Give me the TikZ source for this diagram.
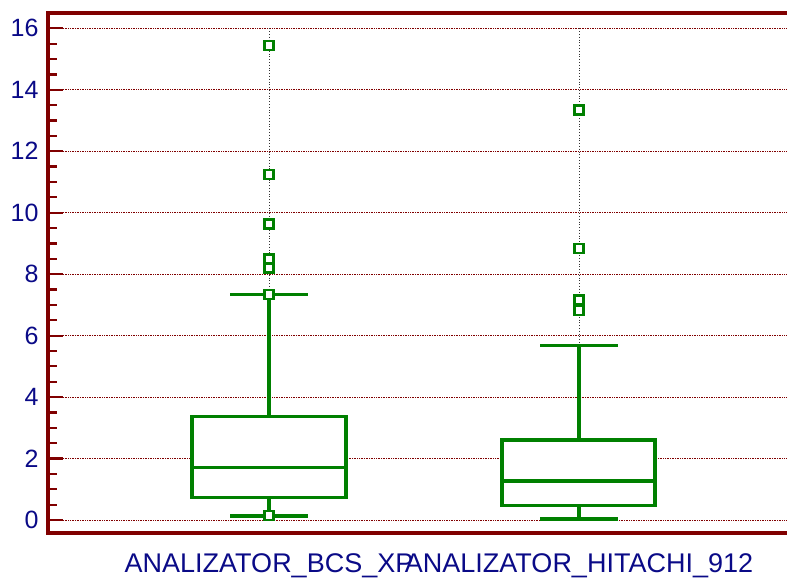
\documentclass[tikz,border=0pt]{standalone}
\usepackage{fontspec}
\setmainfont{Liberation Sans}
\definecolor{axisred}{RGB}{128,0,0}
\definecolor{boxgreen}{RGB}{0,128,0}
\definecolor{labelblue}{RGB}{10,10,135}
\tikzset{
  grid line/.style={axisred, densely dotted, line width=0.7pt},
  box line/.style={boxgreen, line width=3.2pt},
  outlier/.style={boxgreen, fill=white, line width=2.2pt},
  stem/.style={black!80, dotted, line width=0.8pt}
}
\begin{document}
\begin{tikzpicture}[x=1pt, y=1pt, font=\fontsize{25}{25}\selectfont]
\useasboundingbox (0,0) rectangle (787,580);
\begin{scope}[yshift=60pt, y=30.73pt]
% grid and ticks
\foreach \v in {0,2,...,16}{
  \draw[grid line] (63,\v)--(787,\v);
  \draw[axisred, line width=2.2pt] (48,\v)--(63,\v);
  \node[labelblue, anchor=east] (t\v) at (42,\v) {\v};
}
\foreach \v in {0,2,...,14}
  \foreach \d in {0.5,1,1.5}
    \draw[axisred, line width=2.2pt] (48,\v+\d)--(57,\v+\d);
% stems
\draw[stem] (269,16)--(269,7.35);
\draw[stem] (579,16)--(579,5.69);
% box 1
\draw[box line] (269,3.38)--(269,7.35);  \draw[box line] (230,7.35)--(308,7.35);
\draw[box line] (269,0.72)--(269,0.13);  \draw[box line] (230,0.13)--(308,0.13);
\draw[box line, fill=white] (192,0.72) rectangle (346,3.38);
\draw[box line] (192,1.72)--(346,1.72);
\foreach \o in {15.45,11.23,9.63,8.49,8.2,7.35,0.15}
  \draw[outlier] (269,\o) ++(-4.5pt,-4.5pt) rectangle ++(9pt,9pt);
% box 2
\draw[box line] (579,2.6)--(579,5.69);  \draw[box line] (540,5.69)--(618,5.69);
\draw[box line] (579,0.46)--(579,0.03);  \draw[box line] (540,0.03)--(618,0.03);
\draw[box line, fill=white] (502,0.46) rectangle (655,2.6);
\draw[box line] (502,1.27)--(655,1.27);
\foreach \o in {13.34,8.83,7.16,6.81}
  \draw[outlier] (579,\o) ++(-4.5pt,-4.5pt) rectangle ++(9pt,9pt);
\end{scope}
% axes
\draw[axisred, line width=3.5pt] (787,567)--(48,567)--(48,47)--(787,47);
% category labels
\node[labelblue, font=\fontsize{27}{27}\selectfont] (labA) at (269,14) {ANALIZATOR\_BCS\_XP};
\node[labelblue, font=\fontsize{27}{27}\selectfont] (labB) at (579,14) {ANALIZATOR\_HITACHI\_912};
\end{tikzpicture}
\end{document}
